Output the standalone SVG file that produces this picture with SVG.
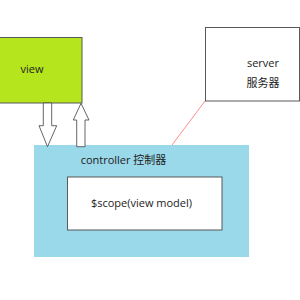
<svg xmlns="http://www.w3.org/2000/svg" width="300" height="300" viewBox="0 0 300 300">
<style>
.box{stroke:#595959;stroke-width:1}
.t{font-family:"Open Sans","Noto Sans CJK SC",sans-serif;font-size:11px;fill:#222;text-anchor:middle}
.arrow{fill:#fff;stroke:#404040;stroke-width:0.8}
</style>
<rect width="300" height="300" fill="#fff"/>
<g id="view">
<rect class="box" x="-1" y="37.5" width="83" height="65.5" fill="#b5e61d"/>
<text class="t" x="32" y="73">view</text>
</g>
<g id="server">
<rect class="box" x="205.5" y="27.5" width="94" height="73.5" fill="#fff"/>
<text class="t" x="263" y="67">server</text>
<text class="t" x="263" y="87">服务器</text>
</g>
<g id="controller">
<rect x="34" y="145" width="215" height="112" fill="#99d9ea"/>
<text class="t" x="123.5" y="164">controller 控制器</text>
</g>
<g id="scope">
<rect class="box" x="67.5" y="177" width="154.5" height="53" fill="#fff"/>
<text class="t" x="141.5" y="207">$scope(view model)</text>
</g>
<g id="connectors">
<polygon class="arrow" points="43.3,103 51.7,103 51.7,125.7 56.7,125.7 47.5,146.7 39,125.7 43.3,125.7"/>
<polygon class="arrow" points="76.7,146.7 85,146.7 85,120 89,120 81,103.3 73.3,120 76.7,120"/>
<line x1="205" y1="101" x2="172" y2="145" stroke="#ff6f6f" stroke-width="0.8"/>
</g>
</svg>
